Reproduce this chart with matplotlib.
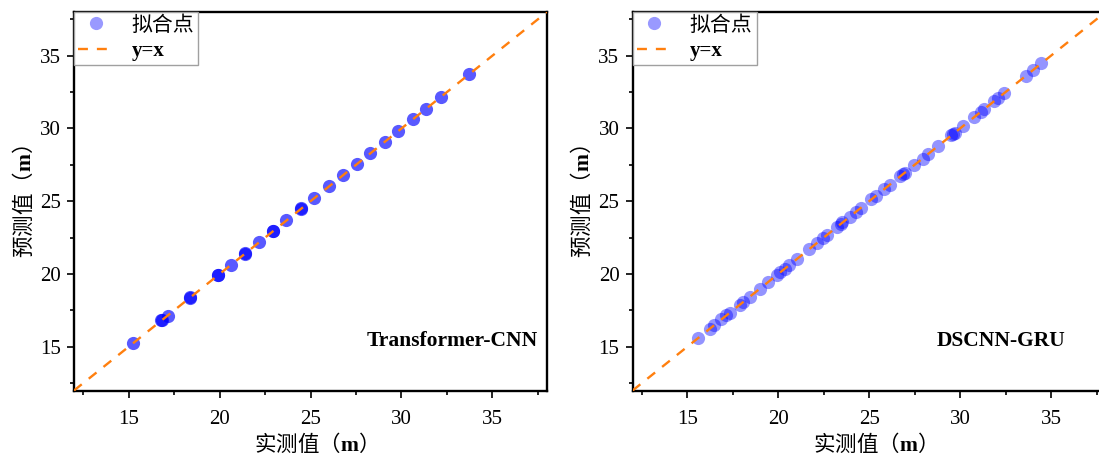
import numpy as np
import matplotlib as mpl
mpl.use('Agg')
import matplotlib.pyplot as plt
from matplotlib.lines import Line2D

#
#--- fonts: serif for latin text, CJK fallback for chinese
#
plt.rcParams['font.family'] = ['Liberation Serif', 'Noto Sans CJK SC']
plt.rcParams['mathtext.fontset'] = 'custom'
plt.rcParams['mathtext.rm'] = 'Noto Sans CJK SC'
plt.rcParams['mathtext.bf'] = 'Liberation Serif:bold'
plt.rcParams['axes.unicode_minus'] = False

#
#--- data read from the reference (measured / predicted, m)
#
tcnn_true = [15.26, 16.84, 16.80, 17.15, 18.37, 18.40, 19.90, 19.92, 20.63, 21.40, 21.42,
             22.16, 22.93, 22.95, 23.66, 24.47, 24.50, 25.20, 26.03, 26.76, 27.55,
             28.28, 29.09, 29.82, 30.63, 31.34, 32.16, 33.72]
tcnn_pred = [15.28, 16.82, 16.84, 17.14, 18.38, 18.41, 19.91, 19.93, 20.62, 21.42, 21.41,
             22.17, 22.95, 22.94, 23.68, 24.48, 24.51, 25.21, 26.04, 26.78, 27.56,
             28.30, 29.10, 29.84, 30.65, 31.36, 32.18, 33.75]

dscnn_true = [15.59, 16.27, 16.50, 16.87, 17.15, 17.37, 17.92, 18.05, 18.43, 19.02,
              19.43, 19.94, 20.12, 20.35, 20.58, 21.05, 21.69, 22.15, 22.46, 22.70,
              23.25, 23.45, 23.53, 23.95, 24.26, 24.57, 25.12, 25.36, 25.82, 26.15,
              26.70, 26.85, 26.95, 27.47, 27.94, 28.25, 28.80, 29.50, 29.62, 29.72,
              30.14, 30.78, 31.15, 31.33, 31.88, 32.07, 32.40, 33.63, 34.00, 34.46]
dscnn_pred = [15.58, 16.25, 16.52, 16.89, 17.16, 17.35, 17.90, 18.07, 18.45, 19.00,
              19.45, 19.92, 20.14, 20.33, 20.60, 21.03, 21.70, 22.13, 22.48, 22.71,
              23.24, 23.47, 23.55, 23.93, 24.28, 24.55, 25.14, 25.35, 25.84, 26.13,
              26.72, 26.86, 26.93, 27.49, 27.92, 28.27, 28.78, 29.52, 29.63, 29.70,
              30.16, 30.80, 31.13, 31.35, 31.86, 32.09, 32.42, 33.61, 34.02, 34.48]

lims = [12, 38]
ticks = [15, 20, 25, 30, 35]

#
#--- panel settings: axes position, data, alpha, model name, name position
#
panels = [
    ([74 / 1099, 67.5 / 458, 473 / 1099, 378.5 / 458], tcnn_true, tcnn_pred, 0.65,
     'Transformer-CNN', 0.981),
    ([632.6 / 1099, 67.5 / 458, 473 / 1099, 378.5 / 458], dscnn_true, dscnn_pred, 0.42,
     'DSCNN-GRU', 0.916),
]

fig = plt.figure(figsize=(10.99, 4.58), dpi=100)

for pos, xdata, ydata, alp, name, nx in panels:
    ax = fig.add_axes(pos)
    ax.scatter(xdata, ydata, s=90, color='#0000ff', alpha=alp, linewidths=0, zorder=2)
    ax.plot(lims, lims, color='#ff7f0e', lw=1.7, ls=(0, (4.2, 3.8)), zorder=3)

    ax.set_xlim(lims)
    ax.set_ylim(lims)
    ax.set_xticks(ticks)
    ax.set_yticks(ticks)
    ax.set_xticks([t + 2.5 for t in [10] + ticks], minor=True)
    ax.set_yticks([t + 2.5 for t in [10] + ticks], minor=True)
    ax.tick_params(which='major', direction='out', length=5, width=1.2, labelsize=15)
    ax.tick_params(axis='x', which='major', pad=9)
    ax.tick_params(axis='y', which='major', pad=4.5)
    ax.tick_params(which='minor', direction='out', length=2.9, width=1.2)
    for sp in ax.spines.values():
        sp.set_linewidth(1.7)

    ax.set_xlabel('实测值（$\\mathbf{m}$）', fontsize=15.5, labelpad=2,
                  family='Noto Sans CJK SC')
    ax.set_ylabel('预测值（$\\mathbf{m}$）', fontsize=15.5, labelpad=3,
                  family='Noto Sans CJK SC')

    ax.text(nx, 0.13, name, transform=ax.transAxes, ha='right', va='center',
            fontsize=15.5, fontweight='bold')
#
#--- legend with lighter marker
#
    handles = [Line2D([], [], ls='none', marker='o', markersize=9.5, color='#0000ff',
                      alpha=0.4, markeredgewidth=0),
               Line2D([], [], color='#ff7f0e', lw=1.7, ls=(0, (4.2, 3.8)))]
    leg = ax.legend(handles, ['拟合点', 'y=x'], loc='upper left', fontsize=15,
                    frameon=True, fancybox=False, framealpha=1, edgecolor='#a0a0a0',
                    borderaxespad=0, borderpad=0.2, labelspacing=0.25,
                    handlelength=1.7, handletextpad=0.85)
    leg.get_frame().set_linewidth(1.0)
    leg.get_texts()[1].set_fontweight('bold')

plt.savefig('out.png', dpi=100)
